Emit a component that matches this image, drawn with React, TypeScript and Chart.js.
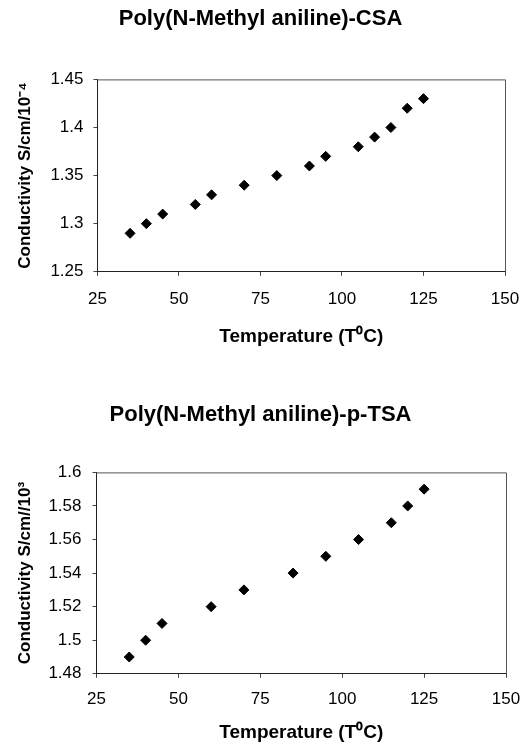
import React, { useEffect, useRef } from "react";
import { Chart, registerables } from "chart.js";

Chart.register(...registerables);

// ---- Data: chart 1 (CSA) ----
const csaTemps = [35, 40, 45, 55, 60, 70, 80, 90, 95, 105, 110, 115, 120, 125];
const csaConductivity = [1.29, 1.3, 1.31, 1.32, 1.33, 1.34, 1.35, 1.36, 1.37, 1.38, 1.39, 1.4, 1.42, 1.43];
const csaYTicks = [1.25, 1.3, 1.35, 1.4, 1.45];

// ---- Data: chart 2 (p-TSA) ----
const tsaTemps = [35, 40, 45, 60, 70, 85, 95, 105, 115, 120, 125];
const tsaConductivity = [1.49, 1.5, 1.51, 1.52, 1.53, 1.54, 1.55, 1.56, 1.57, 1.58, 1.59];
const tsaYTicks = [1.48, 1.5, 1.52, 1.54, 1.56, 1.58, 1.6];

const xTicks = [25, 50, 75, 100, 125, 150];

const FONT = "'Liberation Sans', Arial, Helvetica, sans-serif";

const framePlugin = {
  id: "frame",
  afterDatasetsDraw(chart: any) {
    const { ctx, chartArea } = chart;
    ctx.save();
    ctx.strokeStyle = "#555";
    ctx.lineWidth = 1;
    ctx.beginPath();
    ctx.moveTo(chartArea.left, chartArea.top + 0.5);
    ctx.lineTo(chartArea.right + 0.5, chartArea.top + 0.5);
    ctx.lineTo(chartArea.right + 0.5, chartArea.bottom);
    ctx.stroke();
    ctx.restore();
  },
};

type Cfg = {
  title: string;
  yTitle: string;
  xs: number[];
  ys: number[];
  yTicks: number[];
  titlePad: { top: number; bottom: number };
  xLabelPad: number;
  xTitlePad: { top: number; bottom: number };
  yLabelPad: number;
  yTitlePad: { top: number; bottom: number };
  rightGap: number;
};

function ScatterPanel({ cfg }: { cfg: Cfg }) {
  const ref = useRef<HTMLCanvasElement>(null);
  useEffect(() => {
    if (!ref.current) return;
    const chart = new Chart(ref.current, {
      type: "scatter",
      data: {
        datasets: [
          {
            data: cfg.xs.map((x, i) => ({ x, y: cfg.ys[i] })),
            pointStyle: "rectRot",
            pointRadius: 5,
            pointHoverRadius: 5,
            backgroundColor: "#000",
            borderColor: "#000",
            borderWidth: 1,
          },
        ],
      },
      options: {
        responsive: false,
        animation: false,
        events: [],
        layout: { padding: 0 },
        plugins: {
          legend: { display: false },
          tooltip: { enabled: false },
          title: {
            display: true,
            text: cfg.title,
            color: "#000",
            font: { family: FONT, size: 22, weight: "bold" },
            padding: cfg.titlePad,
          },
        },
        scales: {
          x: {
            type: "linear",
            min: 25,
            max: 150,
            afterBuildTicks: (axis: any) => {
              axis.ticks = xTicks.map((v) => ({ value: v }));
            },
            afterFit: (axis: any) => {
              axis.paddingRight = cfg.rightGap;
            },
            ticks: {
              color: "#000",
              font: { family: FONT, size: 17 },
              padding: cfg.xLabelPad,
              callback: (v: any) => String(v),
            },
            grid: { display: true, drawOnChartArea: false, drawTicks: true, tickLength: 4, color: "#444" },
            border: { display: true, color: "#222", width: 1 },
            title: {
              display: true,
              text: "Temperature (T\u2070C)",
              color: "#000",
              font: { family: FONT, size: 19, weight: "bold" },
              padding: cfg.xTitlePad,
            },
          },
          y: {
            type: "linear",
            min: cfg.yTicks[0],
            max: cfg.yTicks[cfg.yTicks.length - 1],
            afterBuildTicks: (axis: any) => {
              axis.ticks = cfg.yTicks.map((v) => ({ value: v }));
            },
            ticks: {
              color: "#000",
              font: { family: FONT, size: 17 },
              padding: cfg.yLabelPad,
              callback: (v: any) => String(v),
            },
            grid: { display: true, drawOnChartArea: false, drawTicks: true, tickLength: 4, color: "#444" },
            border: { display: true, color: "#222", width: 1 },
            title: {
              display: true,
              text: cfg.yTitle,
              color: "#000",
              font: { family: FONT, size: 17, weight: "bold" },
              padding: cfg.yTitlePad,
            },
          },
        },
      },
      plugins: [framePlugin],
    } as any);
    return () => chart.destroy();
  }, [cfg]);
  return <canvas ref={ref} width={521} height={372} style={{ display: "block" }} />;
}

const cfg1: Cfg = {
  title: "Poly(N-Methyl aniline)-CSA",
  yTitle: "Conductivity S/cm/10\u207B\u2074",
  xs: csaTemps,
  ys: csaConductivity,
  yTicks: csaYTicks,
  titlePad: { top: 6, bottom: 47 },
  xLabelPad: 13,
  xTitlePad: { top: 3, bottom: 24 },
  yLabelPad: 10,
  yTitlePad: { top: 15, bottom: 5 },
  rightGap: 16,
};

const cfg2: Cfg = {
  title: "Poly(N-Methyl aniline)-p-TSA",
  yTitle: "Conductivity S/cm//10\u00B3",
  xs: tsaTemps,
  ys: tsaConductivity,
  yTicks: tsaYTicks,
  titlePad: { top: 30, bottom: 44 },
  xLabelPad: 11,
  xTitlePad: { top: 1, bottom: 0 },
  yLabelPad: 11,
  yTitlePad: { top: 15, bottom: 2 },
  rightGap: 15,
};

export default function App() {
  return (
    <div style={{ position: "fixed", left: 0, top: 0, width: 521, height: 744, background: "#fff" }}>
      <ScatterPanel cfg={cfg1} />
      <ScatterPanel cfg={cfg2} />
    </div>
  );
}
